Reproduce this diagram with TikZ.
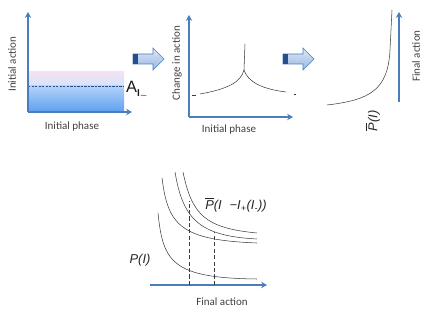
\documentclass[tikz,border=0pt]{standalone}
\usepackage{amsmath}
\usepackage{fontspec}
\setmainfont{Carlito}
\newfontfamily\arialfont{Liberation Sans}
\usetikzlibrary{arrows.meta}

\definecolor{axisblue}{RGB}{74,126,187}
\definecolor{curvegray}{RGB}{60,60,60}
\definecolor{darkblue}{RGB}{38,78,140}

\begin{document}
\begin{tikzpicture}[x=0.03cm, y=-0.03cm,
  axis/.style={axisblue, line width=1.2pt, -{Stealth[length=5pt, width=5.5pt]}},
  curve/.style={curvegray, line width=0.45pt},
  guide/.style={curvegray, line width=0.45pt, dash pattern=on 3.5pt off 2pt},
  lbl/.style={text=black!75, font=\fontsize{9.4}{11}\selectfont, inner sep=0pt},
  formula/.style={text=black!85, font=\fontsize{11}{13}\arialfont\itshape, inner sep=0pt},
  blockarrow/.style={draw=axisblue, line width=0.5pt,
    top color={rgb,255:red,222;green,232;blue,246}, bottom color={rgb,255:red,150;green,182;blue,226}}]
  \useasboundingbox (0,0) rectangle (436,312);

  % panel 1: initial distribution
  \shade[top color={rgb,255:red,243;green,226;blue,243}, bottom color={rgb,255:red,212;green,228;blue,250}]
    (28,72) rectangle (124,86);
  \shade[top color={rgb,255:red,180;green,210;blue,248}, bottom color={rgb,255:red,92;green,160;blue,240}]
    (28,86) rectangle (124,112);
  \draw[darkblue, line width=0.5pt, dash pattern=on 2pt off 1pt] (28,86) -- (124,86);
  \coordinate (o1) at (28,112);
  \coordinate (y1) at (28,12);
  \coordinate (x1) at (132,112);
  \draw[axis] (o1) -- (y1);
  \draw[axis] (o1) -- (x1);
  \node[lbl, rotate=90] (initAction) at (12,64) {Initial action};
  \node[lbl] (initPhase) at (72,127) {Initial phase};
  \node[anchor=west, inner sep=0pt, text=black!90] (aLevel) at (126,90)
    {{\fontsize{14}{16}\arialfont A}\raisebox{-3pt}{\fontsize{9}{10}\selectfont$\mathbf{I}_{\boldsymbol{-}}$}};

  % block arrows between panels
  \foreach \bx in {133,283} {
    \begin{scope}[shift={(\bx,0)}]
      \draw[blockarrow] (0,54) -- (20,54) -- (20,48) -- (31,59) -- (20,70) -- (20,64) -- (0,64) -- cycle;
      \fill[darkblue] (0,54) rectangle (5,64);
    \end{scope}
  }

  % panel 2: change in action
  \coordinate (o2) at (189,117);
  \coordinate (y2) at (189,15);
  \coordinate (x2) at (293,117);
  \draw[axis] (o2) -- (y2);
  \draw[axis] (o2) -- (x2);
  \draw[curve] (192,95) -- (196,95);
  \draw[curve] (200,94) .. controls (228,89) and (241,82) .. (244,70);
  \draw[curve] (244,70) -- (245,44);
  \draw[curve] (244,70) .. controls (248,82) and (262,89) .. (286,92);
  \draw[curve] (294,94) -- (296,94);
  \node[lbl, rotate=90] (changeAction) at (177,63) {Change in action};
  \node[lbl] (phaseTwo) at (229,130) {Initial phase};

  % panel 3: final distribution
  \coordinate (o3) at (399,102);
  \coordinate (y3) at (399,12);
  \draw[axis] (o3) -- (y3);
  \draw[curve] (327,105) .. controls (370,100) and (388,90) .. (390,50) -- (392,10);
  \node[lbl, rotate=90] (finalAction) at (416,56) {Final action};
  \node[formula, rotate=90] (pBar) at (373,121) {$\overline{\text{P}}$(I)};

  % panel 4: shifted distributions
  \coordinate (o4) at (150,285);
  \coordinate (x4) at (267,285);
  \draw[axis] (o4) -- (x4);
  \draw[curve] (158,213) .. controls (163,262) and (172,278) .. (257,279);
  \draw[curve] (162,178) .. controls (168,225) and (180,240) .. (257,243);
  \draw[curve] (175,172) .. controls (183,220) and (200,236) .. (257,239);
  \draw[curve] (183,172) .. controls (192,215) and (205,228) .. (257,233);
  \coordinate (g1b) at (189,285);
  \coordinate (g1t) at (189,201);
  \coordinate (g2b) at (214,285);
  \coordinate (g2t) at (214,232);
  \draw[guide] (g1b) -- (g1t);
  \draw[guide] (g2b) -- (g2t);
  \node[formula] (pShift) at (236,205) {$\overline{\text{P}}$(I \,\,−I$_\text{+}$(I$_\text{-}$))};
  \node[formula] (pI) at (140,260) {P(I)};
  \node[lbl] (finalAction2) at (222,302) {Final action};
\end{tikzpicture}
\end{document}
